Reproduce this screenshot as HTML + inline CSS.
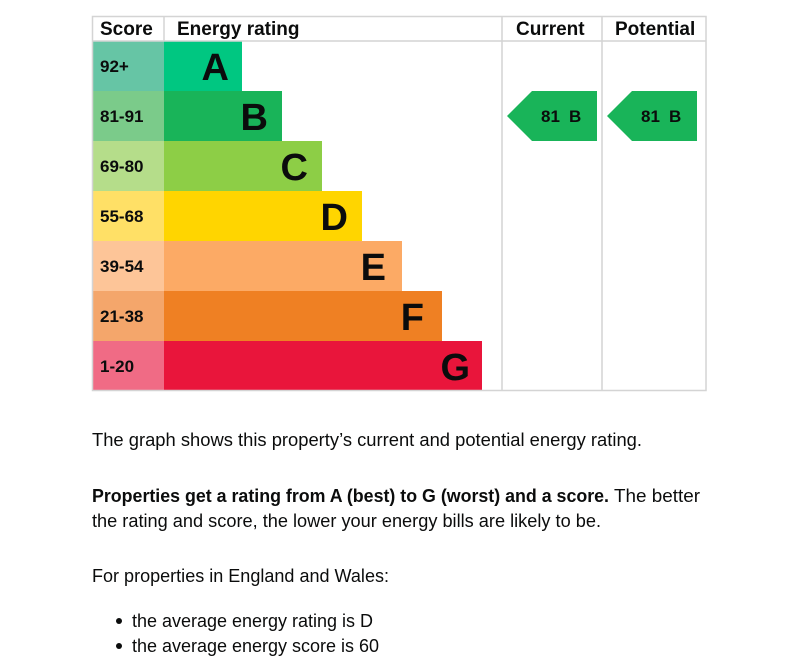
<!DOCTYPE html>
<html><head><meta charset="utf-8"><style>
html,body{margin:0;padding:0;background:#fff;width:801px;height:672px;overflow:hidden}
svg{display:block}
.h{font:bold 19px "Liberation Sans",Arial,sans-serif;fill:#0b0c0c}
.s{font:bold 17px "Liberation Sans",Arial,sans-serif;fill:#0b0c0c}
.l{font:bold 38px "Liberation Sans",Arial,sans-serif;fill:#0b0c0c;text-anchor:end}
.a{font:bold 17px "Liberation Sans",Arial,sans-serif;fill:#0b0c0c}
.t{font:18px "Liberation Sans",Arial,sans-serif;fill:#0b0c0c}
.tb{font:bold 18px "Liberation Sans",Arial,sans-serif;fill:#0b0c0c}
</style></head><body>
<svg width="801" height="672" xmlns="http://www.w3.org/2000/svg">
<g>
<rect x="92" y="41" width="72" height="50" fill="#66c5a5"/><rect x="164" y="41" width="78" height="50" fill="#00c781"/>
<rect x="92" y="91" width="72" height="50" fill="#7bcb8a"/><rect x="164" y="91" width="118" height="50" fill="#19b459"/>
<rect x="92" y="141" width="72" height="50" fill="#b5dd8a"/><rect x="164" y="141" width="158" height="50" fill="#8dce46"/>
<rect x="92" y="191" width="72" height="50" fill="#ffe066"/><rect x="164" y="191" width="198" height="50" fill="#ffd500"/>
<rect x="92" y="241" width="72" height="50" fill="#fdc598"/><rect x="164" y="241" width="238" height="50" fill="#fcaa65"/>
<rect x="92" y="291" width="72" height="50" fill="#f4a66b"/><rect x="164" y="291" width="278" height="50" fill="#ef8023"/>
<rect x="92" y="341" width="72" height="50" fill="#f06b85"/><rect x="164" y="341" width="318" height="50" fill="#e9153b"/>
</g>
<g stroke="#d4d4d4" stroke-width="1.5" fill="none">
<rect x="92.5" y="16.5" width="613.5" height="374"/>
<line x1="92" y1="41" x2="706" y2="41"/>
<line x1="164" y1="16" x2="164" y2="41"/>
<line x1="502" y1="16" x2="502" y2="391"/>
<line x1="602" y1="16" x2="602" y2="391"/>
</g>
<text class="h" x="100" y="35">Score</text>
<text class="h" x="177" y="35">Energy rating</text>
<text class="h" x="516" y="35">Current</text>
<text class="h" x="615" y="35">Potential</text>
<text class="s" x="100" y="72">92+</text>
<text class="s" x="100" y="122">81-91</text>
<text class="s" x="100" y="172">69-80</text>
<text class="s" x="100" y="222">55-68</text>
<text class="s" x="100" y="272">39-54</text>
<text class="s" x="100" y="322">21-38</text>
<text class="s" x="100" y="372">1-20</text>
<text class="l" x="229" y="80">A</text>
<text class="l" x="268" y="130">B</text>
<text class="l" x="308" y="180">C</text>
<text class="l" x="348" y="230">D</text>
<text class="l" x="386" y="280">E</text>
<text class="l" x="424" y="330">F</text>
<text class="l" x="470" y="380">G</text>
<polygon points="507,116 532,91 597,91 597,141 532,141" fill="#19b459"/>
<polygon points="607,116 632,91 697,91 697,141 632,141" fill="#19b459"/>
<text class="a" x="541" y="122">81</text><text class="a" x="569" y="122">B</text>
<text class="a" x="641" y="122">81</text><text class="a" x="669" y="122">B</text>
<text class="t" x="92" y="446" textLength="550" lengthAdjust="spacingAndGlyphs">The graph shows this property’s current and potential energy rating.</text>
<text x="92" y="502"><tspan class="tb" textLength="517" lengthAdjust="spacingAndGlyphs">Properties get a rating from A (best) to G (worst) and a score.</tspan><tspan class="t" dx="5" textLength="86" lengthAdjust="spacingAndGlyphs">The better</tspan></text>
<text class="t" x="92" y="527" textLength="509" lengthAdjust="spacingAndGlyphs">the rating and score, the lower your energy bills are likely to be.</text>
<text class="t" x="92" y="582" textLength="297" lengthAdjust="spacingAndGlyphs">For properties in England and Wales:</text>
<circle cx="119" cy="621" r="3" fill="#0b0c0c"/>
<circle cx="119" cy="646" r="3" fill="#0b0c0c"/>
<text class="t" x="132" y="627" textLength="241" lengthAdjust="spacingAndGlyphs">the average energy rating is D</text>
<text class="t" x="132" y="652" textLength="247" lengthAdjust="spacingAndGlyphs">the average energy score is 60</text>
</svg>
</body></html>
